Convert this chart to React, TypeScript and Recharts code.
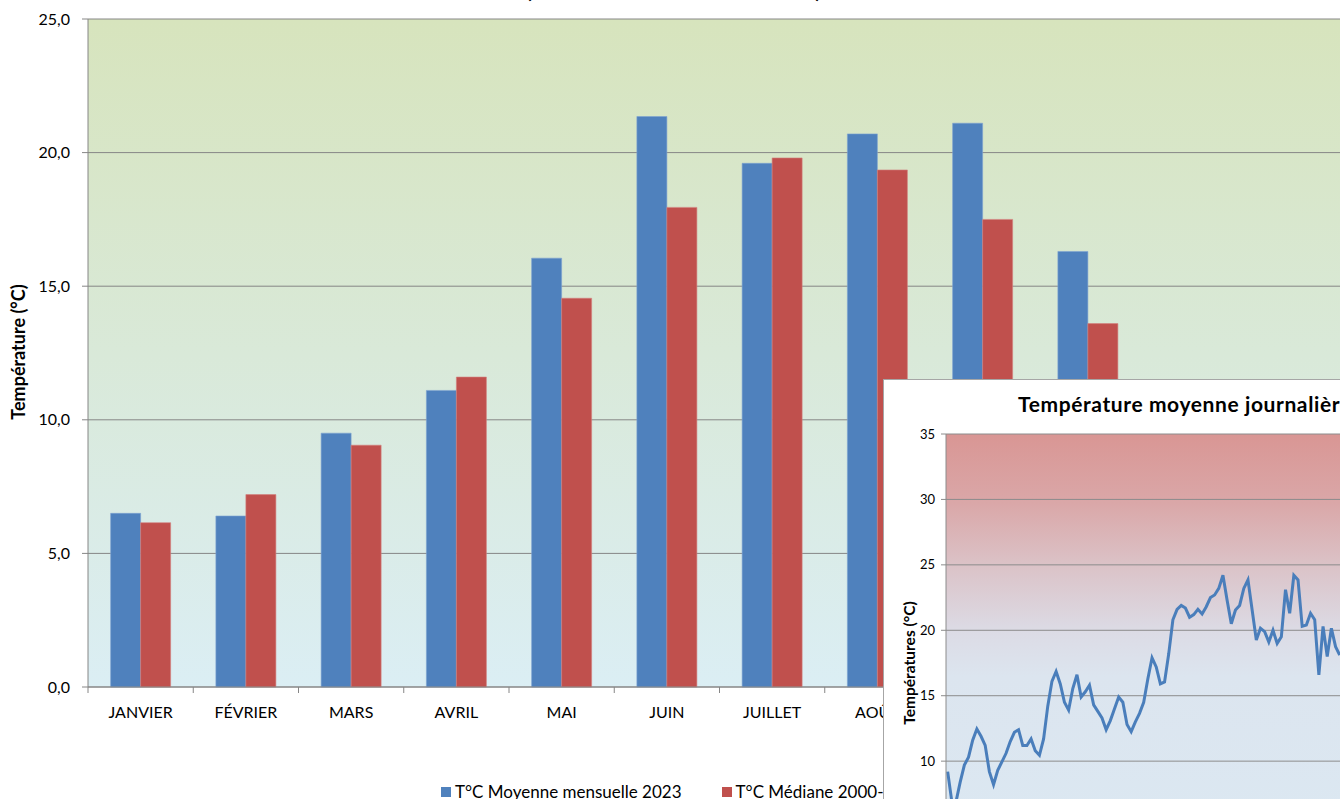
import React from "react";
import { BarChart, Bar, XAxis, YAxis, CartesianGrid, LineChart, Line } from "recharts";

const months = [
  "JANVIER", "FÉVRIER", "MARS", "AVRIL", "MAI", "JUIN",
  "JUILLET", "AOÛT", "SEPTEMBRE", "OCTOBRE", "NOVEMBRE", "DÉCEMBRE",
];
const moyenne2023 = [6.5, 6.4, 9.5, 11.1, 16.05, 21.35, 19.6, 20.7, 21.1, 16.3, 9.6, 7.6];
const mediane = [6.15, 7.2, 9.05, 11.6, 14.55, 17.95, 19.8, 19.35, 17.5, 13.6, 8.8, 5.9];
const monthTicks = [0, 5, 10, 15, 20, 25];

const dailyTemps = [
  9.2, 6.9, 6.9, 8.4, 9.7, 10.3, 11.6, 12.45, 11.9, 11.2, 9.2, 8.2, 9.3, 9.95, 10.6,
  11.5, 12.2, 12.4, 11.2, 11.2, 11.7, 10.8, 10.45, 11.7, 14.2, 16.1, 16.85, 15.9, 14.5,
  13.9, 15.55, 16.6, 14.9, 15.3, 15.8, 14.3, 13.8, 13.3, 12.4, 13.1, 14.0, 14.9, 14.5,
  12.8, 12.25, 13.0, 13.65, 14.5, 16.3, 17.9, 17.2, 15.9, 16.05, 18.2, 20.8, 21.6, 21.9,
  21.7, 21.0, 21.2, 21.6, 21.25, 21.8, 22.5, 22.7, 23.2, 24.2, 22.3, 20.5, 21.55, 21.9,
  23.2, 23.85, 21.55, 19.25, 20.15, 19.9, 19.1, 20.0, 19.0, 19.5, 23.1, 21.3, 24.2,
  23.85, 20.3, 20.4, 21.3, 20.8, 16.6, 20.3, 18.0, 20.15, 18.75, 18.1,
];
const dailyTicks = [0, 5, 10, 15, 20, 25, 30, 35];

const monthData = months.map((mois, i) => ({ mois, moy: moyenne2023[i], med: mediane[i] }));
const dayData = dailyTemps.map((t, i) => ({ jour: i, t }));

const FONT = "Lato, 'Open Sans', sans-serif";
const AXIS = "#868686";

function MonthTick(props: any) {
  const { x, y, payload, width, visibleTicksCount } = props;
  const half = (width ?? 1263) / (visibleTicksCount ?? 12) / 2;
  return (
    <g>
      <line x1={x - half} x2={x - half} y1={y} y2={y + 6} stroke={AXIS} />
      <text x={x} y={y + 31} textAnchor="middle" fill="#000" fontSize={16} fontFamily={FONT}>
        {payload.value}
      </text>
    </g>
  );
}

export default function App() {
  return (
    <div style={{ position: "fixed", left: 0, top: 0, width: 1340, height: 799, overflow: "hidden", background: "#fff", fontFamily: FONT }}>
      <div style={{ position: "absolute", left: 526, top: -25, fontSize: 21, letterSpacing: 0.3, fontWeight: 700, whiteSpace: "nowrap", lineHeight: "30px" }}>
        <span style={{ position: "absolute", right: "100%", top: 0 }}>TEMPÉRATURES MOYENNES MENSUELLES&nbsp;</span>
        (2023 / MÉDIANE 2000-2022)
      </div>

      <div style={{ position: "absolute", left: 0, top: 0 }}>
        <BarChart
          width={1400}
          height={799}
          data={monthData}
          margin={{ top: 19, right: 49, bottom: 72, left: 8 }}
          barCategoryGap="21.5%"
          barGap={0}
        >
          <defs>
            <linearGradient id="mainBg" x1="0" y1="0" x2="0" y2="1">
              <stop offset="0%" stopColor="#d7e4bd" />
              <stop offset="100%" stopColor="#dbeef4" />
            </linearGradient>
          </defs>
          <CartesianGrid vertical={false} stroke={AXIS} fill="url(#mainBg)" fillOpacity={1} />
          <XAxis
            dataKey="mois"
            height={40}
            axisLine={{ stroke: AXIS }}
            tickLine={false}
            tickSize={0}
            tickMargin={0}
            interval={0}
            tick={<MonthTick />}
          />
          <YAxis
            width={80}
            domain={[0, 25]}
            ticks={monthTicks}
            axisLine={{ stroke: AXIS }}
            tickLine={{ stroke: AXIS }}
            tickSize={6}
            tickMargin={12}
            tickFormatter={(v: number) => v.toFixed(1).replace(".", ",")}
            tick={{ fill: "#000", fontSize: 16, fontFamily: FONT }}
          />
          <Bar dataKey="moy" fill="#4f81bd" stroke="#7ea3d1" strokeWidth={0.6} isAnimationActive={false} />
          <Bar dataKey="med" fill="#c0504d" stroke="#d47f7d" strokeWidth={0.6} isAnimationActive={false} />
        </BarChart>
      </div>

      <div
        style={{
          position: "absolute", left: 18, top: 352, transform: "translate(-50%, -50%) rotate(-90deg)",
          fontSize: 18, fontWeight: 700, whiteSpace: "nowrap",
        }}
      >
        Température (°C)
      </div>

      <div style={{ position: "absolute", left: 441, top: 781, display: "flex", alignItems: "center", fontSize: 17, whiteSpace: "nowrap" }}>
        <span style={{ width: 10, height: 10, background: "#4f81bd", marginRight: 4 }} />
        <span>T°C Moyenne mensuelle 2023</span>
        <span style={{ width: 10, height: 10, background: "#c0504d", marginLeft: 40, marginRight: 4 }} />
        <span>T°C Médiane 2000-2022</span>
      </div>

      <div
        style={{
          position: "absolute", left: 883, top: 379, width: 620, height: 600,
          background: "#fff", border: "1px solid #a6a6a6",
        }}
      >
        <div style={{ position: "absolute", left: 134, top: 11, fontSize: 21, letterSpacing: 0.6, fontWeight: 700, whiteSpace: "nowrap" }}>
          Température moyenne journalière 2023
        </div>
        <div
          style={{
            position: "absolute", left: 25, top: 283, transform: "translate(-50%, -50%) rotate(-90deg)",
            fontSize: 15.5, fontWeight: 700, whiteSpace: "nowrap",
          }}
        >
          Températures (°C)
        </div>
        <div style={{ position: "absolute", left: 0, top: 0 }}>
          <LineChart
            width={560}
            height={560}
            data={dayData}
            margin={{ top: 54, right: 0, bottom: 48, left: 38 }}
          >
            <defs>
              <linearGradient id="insetBg" x1="0" y1="0" x2="0" y2="1">
                <stop offset="0%" stopColor="#d99694" />
                <stop offset="15%" stopColor="#daa7a8" />
                <stop offset="29%" stopColor="#dbc3c8" />
                <stop offset="43%" stopColor="#dcdbe5" />
                <stop offset="53%" stopColor="#dce5ef" />
                <stop offset="100%" stopColor="#dbe9f3" />
              </linearGradient>
            </defs>
            <CartesianGrid vertical={false} stroke="#8c8c8c" fill="url(#insetBg)" fillOpacity={1} />
            <XAxis type="number" dataKey="jour" domain={[-0.4, 119]} hide />
            <YAxis
              width={24}
              domain={[0, 35]}
              ticks={dailyTicks}
              axisLine={{ stroke: "#8c8c8c" }}
              tickLine={{ stroke: "#8c8c8c" }}
              tickSize={5}
              tickMargin={6}
              tick={{ fill: "#000", fontSize: 13, fontFamily: FONT }}
            />
            <Line type="linear" dataKey="t" stroke="#4a7ebb" strokeWidth={3} dot={false} isAnimationActive={false} />
          </LineChart>
        </div>
      </div>
    </div>
  );
}
